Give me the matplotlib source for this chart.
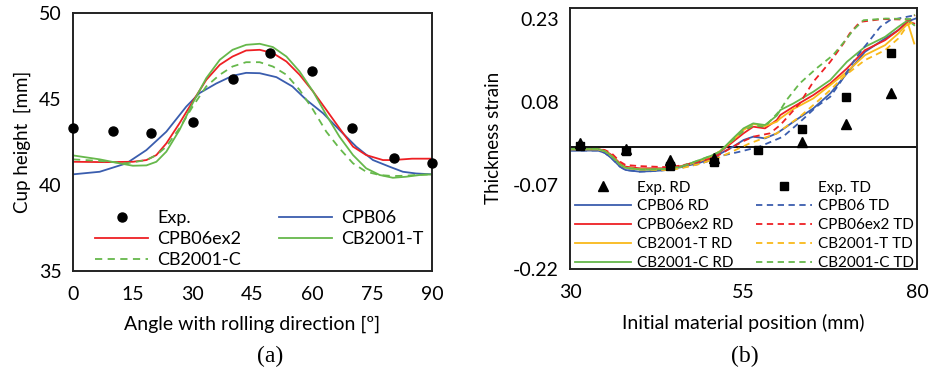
import matplotlib
matplotlib.use('Agg')
import matplotlib.pyplot as plt

plt.rcParams['font.family'] = ['Lato', 'DejaVu Sans']

# ---------------- (a) cup height ----------------
exp_angle = [0, 10, 19.5, 30, 40, 49.5, 60, 70, 80.5, 90]
exp_height = [43.3, 43.12, 43.02, 43.68, 46.16, 47.66, 46.63, 43.3, 41.59, 41.3]

cpb06_angle = [0, 6.7, 13.4, 18.4, 23.4, 28.4, 31.7, 35.9, 40, 43.4, 46.8, 51, 55, 58.5,
               62.7, 66.8, 71, 75.2, 79.4, 82.7, 86, 90]
cpb06_height = [40.62, 40.77, 41.26, 42.03, 43.1, 44.56, 45.34, 45.9, 46.35, 46.52, 46.5,
                46.27, 45.73, 44.95, 44.17, 43.2, 42.23, 41.45, 41.06, 40.77, 40.67, 40.62]

cpb06ex2_angle = [0, 8, 15, 18.4, 20.9, 23.4, 26.7, 30, 33.4, 36.8, 40, 43.4, 46.8, 50.1,
                  53.5, 56.8, 60.2, 63.5, 66.8, 70.2, 73.5, 77.7, 80.2, 85, 90]
cpb06ex2_height = [41.35, 41.33, 41.35, 41.45, 41.74, 42.42, 43.59, 44.85, 46.11, 46.99,
                   47.47, 47.82, 47.86, 47.67, 47.18, 46.41, 45.43, 44.37, 43.3, 42.23,
                   41.74, 41.45, 41.45, 41.53, 41.53]

cb2001t_angle = [0, 6.7, 11.7, 15, 18.4, 20.9, 23.4, 26.7, 30, 33.4, 36.8, 40, 43.4, 46.8,
                 50.1, 53.5, 56.8, 60.2, 63.5, 66.8, 70.2, 73.5, 76.9, 80.2, 83.5, 86.9, 90]
cb2001t_height = [41.72, 41.49, 41.26, 41.12, 41.14, 41.35, 41.94, 43.2, 44.75, 46.21,
                  47.28, 47.86, 48.15, 48.21, 48.02, 47.47, 46.6, 45.43, 44.07, 42.81,
                  41.74, 40.97, 40.58, 40.42, 40.48, 40.58, 40.62]

cb2001c_angle = [0, 6.7, 13.4, 18.4, 20.9, 23.4, 26.7, 30, 33.4, 36.8, 40, 43.4, 46.8,
                 50.1, 53.5, 56.8, 60.2, 63.5, 66.8, 70.2, 73.5, 76.9, 80.2, 83.5, 86.9, 90]
cb2001c_height = [41.49, 41.4, 41.26, 41.45, 41.74, 42.23, 43.3, 44.56, 45.73, 46.41,
                  46.89, 47.14, 47.14, 46.89, 46.41, 45.53, 44.37, 43.1, 42.13, 41.26,
                  40.77, 40.58, 40.52, 40.54, 40.6, 40.62]

angle_ticks = [0, 15, 30, 45, 60, 75, 90]
height_ticks = [35, 40, 45, 50]

# ---------------- (b) thickness strain ----------------
exp_rd_pos = [31.5, 38.1, 44.4, 50.75, 63.5, 69.8, 76.2]
exp_rd_strain = [0.007, -0.004, -0.024, -0.020, 0.008, 0.040, 0.097]
exp_td_pos = [31.5, 38.1, 44.4, 50.75, 57.1, 63.4, 69.8, 76.2]
exp_td_strain = [0.002, -0.008, -0.035, -0.027, -0.006, 0.031, 0.090, 0.169]

pos_early = [30, 34, 35, 36, 37.2, 38, 40, 42, 44, 46, 48.7, 50.4, 51.6]

cpb06_rd_pos = pos_early + [53.5, 55, 56.4, 58.1, 59.8, 61.2, 62.2, 63.5, 65.06, 67.5,
                            69.9, 72.5, 75.4, 77.3, 78.7, 79.8]
cpb06_rd = [-0.007, -0.007, -0.011, -0.021, -0.036, -0.042, -0.045, -0.044, -0.042,
            -0.037, -0.029, -0.021, -0.013, 0.000, 0.012, 0.018, 0.015, 0.024, 0.036,
            0.045, 0.056, 0.069, 0.096, 0.132, 0.171, 0.195, 0.210, 0.226, 0.231]

cpb06ex2_rd_pos = pos_early + [53.5, 55, 56.4, 58.1, 59.8, 60.3, 62.2, 65.06, 67.5, 69.9,
                               72.5, 75.4, 77.3, 78.7, 79.6]
cpb06ex2_rd = [-0.004, -0.004, -0.007, -0.015, -0.030, -0.036, -0.039, -0.039, -0.039,
               -0.035, -0.026, -0.018, -0.010, 0.009, 0.024, 0.036, 0.033, 0.048, 0.057,
               0.072, 0.093, 0.114, 0.141, 0.174, 0.192, 0.210, 0.226, 0.222]

cb2001t_rd_pos = pos_early + [53.5, 55, 56.4, 58.1, 59.8, 60.3, 62.2, 65.06, 67.5, 69.9,
                              72.5, 75.4, 77.3, 78.7, 79.6]
cb2001t_rd = [-0.005, -0.005, -0.008, -0.017, -0.032, -0.038, -0.041, -0.041, -0.040,
              -0.036, -0.026, -0.017, -0.008, 0.012, 0.030, 0.041, 0.037, 0.045, 0.051,
              0.068, 0.087, 0.111, 0.135, 0.165, 0.183, 0.204, 0.222, 0.186]

cb2001c_rd_pos = pos_early + [53.5, 55, 56.4, 58.1, 59.8, 60.3, 62.2, 65.06, 67.5, 69.9,
                              72.5, 75.4, 77.3, 78.7, 79.6]
cb2001c_rd = [-0.004, -0.004, -0.008, -0.017, -0.032, -0.038, -0.041, -0.041, -0.040,
              -0.036, -0.024, -0.016, -0.009, 0.015, 0.033, 0.042, 0.039, 0.056, 0.066,
              0.078, 0.099, 0.120, 0.153, 0.180, 0.198, 0.216, 0.228, 0.219]

cpb06_td_pos = pos_early + [54.5, 57.3, 60.7, 63.1, 65.5, 67.5, 68.9, 71.3, 73.2, 74.7,
                            76.1, 79.7]
cpb06_td = [-0.007, -0.007, -0.011, -0.021, -0.036, -0.042, -0.045, -0.044, -0.042,
            -0.038, -0.031, -0.024, -0.017, -0.009, 0.000, 0.018, 0.044, 0.072, 0.090,
            0.115, 0.162, 0.192, 0.216, 0.228, 0.237]

cpb06ex2_td_pos = pos_early + [53.5, 55, 56.4, 58.8, 60.3, 63.1, 65.06, 67.5, 69.4, 70.3,
                               71.8, 75.0, 79.0, 79.7]
cpb06ex2_td = [-0.004, -0.004, -0.006, -0.012, -0.027, -0.033, -0.035, -0.036, -0.037,
               -0.034, -0.027, -0.021, -0.014, 0.000, 0.010, 0.018, 0.024, 0.039, 0.078,
               0.117, 0.153, 0.186, 0.204, 0.225, 0.230, 0.229, 0.237]

cb2001t_td_pos = pos_early + [52.3, 55.9, 59.8, 63.1, 65.06, 67.5, 69.4, 72.5, 75.4, 77.3,
                              78.7, 79.7]
cb2001t_td = [-0.005, -0.005, -0.008, -0.017, -0.032, -0.038, -0.041, -0.042, -0.042,
              -0.039, -0.031, -0.024, -0.019, -0.015, 0.006, 0.024, 0.054, 0.075, 0.102,
              0.126, 0.156, 0.174, 0.195, 0.220, 0.226]

cb2001c_td_pos = pos_early + [53.5, 55, 56.4, 58.1, 60.3, 61.2, 63.1, 65.5, 67.9, 69.9,
                              70.8, 72.3, 75.5, 79.0, 79.7]
cb2001c_td = [-0.004, -0.004, -0.008, -0.017, -0.032, -0.038, -0.041, -0.041, -0.040,
              -0.036, -0.024, -0.016, -0.009, 0.012, 0.028, 0.038, 0.036, 0.066, 0.084,
              0.114, 0.141, 0.165, 0.195, 0.210, 0.228, 0.231, 0.230, 0.238]

pos_ticks = [30, 55, 80]
strain_ticks = [-0.22, -0.07, 0.08, 0.23]
strain_tick_labels = ['-0.22', '-0.07', '0.08', '0.23']

BLUE = '#3A5DAE'
RED = '#EE2024'
ORANGE = '#F9B91A'
GREEN = '#66B84B'

fig = plt.figure(figsize=(9.32, 3.78), dpi=100)
W, H = 932.0, 378.0
ax1 = fig.add_axes([73 / W, 1 - 271 / H, 359 / W, 258 / H])
ax2 = fig.add_axes([570 / W, 1 - 268.7 / H, 347 / W, 260.7 / H])

lw = 1.3
# ---- panel (a)
ax1.plot(cpb06_angle, cpb06_height, color=BLUE, lw=lw, label='CPB06')
ax1.plot(cpb06ex2_angle, cpb06ex2_height, color=RED, lw=lw, label='CPB06ex2')
ax1.plot(cb2001t_angle, cb2001t_height, color=GREEN, lw=lw, label='CB2001-T')
ax1.plot(cb2001c_angle, cb2001c_height, color=GREEN, lw=lw, ls=(0, (4, 3)), label='CB2001-C')
ax1.plot(exp_angle, exp_height, 'o', color='black', ms=6.5, clip_on=False, label='Exp.', zorder=5)
ax1.set_xlim(0, 90)
ax1.set_ylim(35, 50)
ax1.set_xticks(angle_ticks)
ax1.set_yticks(height_ticks)
ax1.set_xlabel('Angle with rolling direction [º]', fontsize=14, labelpad=9)
ax1.set_ylabel('Cup height  [mm]', fontsize=13.5, labelpad=6)

h = {l.get_label(): l for l in ax1.get_lines()}
order = ['Exp.', 'CPB06ex2', 'CB2001-C', 'CPB06', 'CB2001-T']
ax1.legend([h[k] for k in order], order, ncol=2, frameon=False, fontsize=13,
           loc='upper left', bbox_to_anchor=(0.061, 0.236), handlelength=2.95,
           handletextpad=0.5, columnspacing=2.1, labelspacing=0.27, borderaxespad=0,
           borderpad=0, numpoints=1)

# ---- panel (b)
ax2.axhline(0, color='black', lw=1.3, zorder=1)
ls_d = (0, (3.5, 2.5))
l_rd = [
    ax2.plot(cpb06_rd_pos, cpb06_rd, color=BLUE, lw=lw)[0],
    ax2.plot(cpb06ex2_rd_pos, cpb06ex2_rd, color=RED, lw=lw)[0],
    ax2.plot(cb2001t_rd_pos, cb2001t_rd, color=ORANGE, lw=lw)[0],
    ax2.plot(cb2001c_rd_pos, cb2001c_rd, color=GREEN, lw=lw)[0],
]
l_td = [
    ax2.plot(cpb06_td_pos, cpb06_td, color=BLUE, lw=lw, ls=ls_d)[0],
    ax2.plot(cpb06ex2_td_pos, cpb06ex2_td, color=RED, lw=lw, ls=ls_d)[0],
    ax2.plot(cb2001t_td_pos, cb2001t_td, color=ORANGE, lw=lw, ls=ls_d)[0],
    ax2.plot(cb2001c_td_pos, cb2001c_td, color=GREEN, lw=lw, ls=ls_d)[0],
]
e_rd = ax2.plot(exp_rd_pos, exp_rd_strain, '^', color='black', ms=6.5, zorder=5)[0]
e_td = ax2.plot(exp_td_pos, exp_td_strain, 's', color='black', ms=5.5, zorder=5)[0]
ax2.set_xlim(30, 80)
ax2.set_ylim(-0.22, 0.25)
ax2.set_xticks(pos_ticks)
ax2.set_yticks(strain_ticks)
ax2.set_yticklabels(strain_tick_labels)
ax2.set_xlabel('Initial material position (mm)', fontsize=14, labelpad=9)
ax2.set_ylabel('Thickness strain', fontsize=13.5, labelpad=8)

labels_rd = ['Exp. RD', 'CPB06 RD', 'CPB06ex2 RD', 'CB2001-T RD', 'CB2001-C RD']
labels_td = ['Exp. TD', 'CPB06 TD', 'CPB06ex2 TD', 'CB2001-T TD', 'CB2001-C TD']
ax2.legend([e_rd] + l_rd + [e_td] + l_td, labels_rd + labels_td, ncol=2, frameon=False,
           fontsize=11, loc='upper left', bbox_to_anchor=(0.0144, 0.338), handlelength=3.66,
           handletextpad=0.4, columnspacing=1.5, labelspacing=0.32, borderaxespad=0,
           borderpad=0, numpoints=1)

for ax in (ax1, ax2):
    for s in ax.spines.values():
        s.set_linewidth(1.4)
        s.set_color('#222222')
    ax.tick_params(length=0, labelsize=14)
    ax.tick_params(axis='x', pad=11)
    ax.tick_params(axis='y', pad=8)

fig.text(270 / W, 1 - 356 / H, '(a)', fontsize=17, family='Liberation Serif', ha='center', va='center')
fig.text(745 / W, 1 - 356 / H, '(b)', fontsize=17, family='Liberation Serif', ha='center', va='center')

fig.savefig('out.png', dpi=100)
